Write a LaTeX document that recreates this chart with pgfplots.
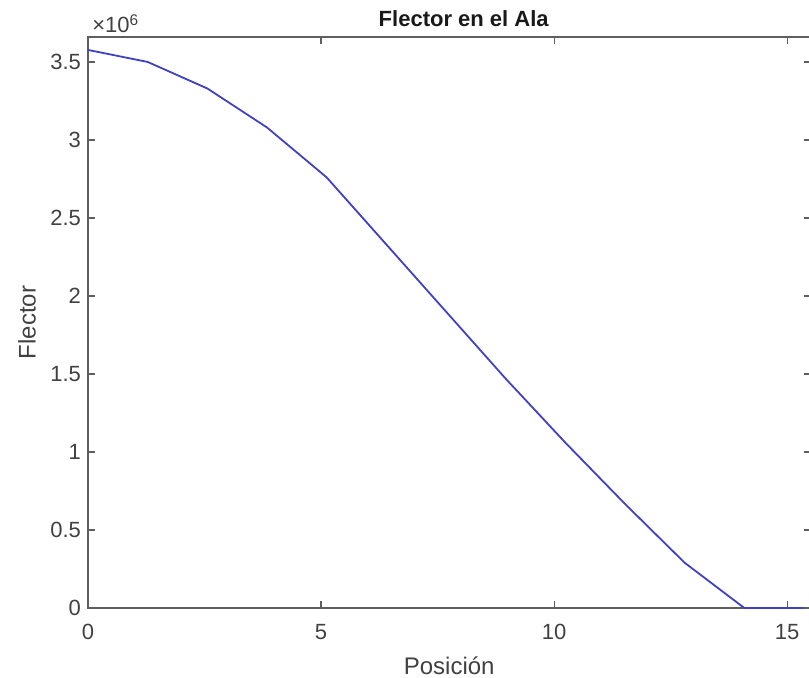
\documentclass[border=0pt]{standalone}
\usepackage{fontspec}
\setmainfont{Liberation Sans}
\usepackage{pgfplots}
\pgfplotsset{compat=1.18}
\definecolor{axgray}{RGB}{95,95,95}
\definecolor{txtgray}{RGB}{65,65,65}
\definecolor{mblue}{RGB}{65,65,195}
\begin{document}
\begin{tikzpicture}
\begin{axis}[
  name=ax,
  scale only axis,
  width=361.25pt, height=285.5pt,
  xmin=0, xmax=15.5, ymin=0, ymax=3.66e6,
  xtick={0,5,10,15},
  ytick={0,500000,1000000,1500000,2000000,2500000,3000000,3500000},
  tick align=inside,
  major tick length=3.5pt,
  axis line style={axgray, line width=0.8pt},
  every tick/.style={axgray, line width=0.6pt},
  tick label style={font=\fontsize{11}{13}\selectfont, text=txtgray},
  /pgf/number format/assume math mode=true,
  scaled y ticks=base 10:-6,
  ytick scale label code/.code={×10\textsuperscript{6}},
  every y tick scale label/.style={at={(rel axis cs:0,1)}, anchor=base west, inner sep=0pt, xshift=2pt, yshift=2pt, font=\fontsize{11}{13}\selectfont, text=txtgray},
  xticklabel style={yshift=-4.5pt},
  xlabel={Posición},
  xlabel style={at={(axis description cs:0.5,0)}, anchor=north, yshift=-24pt, inner sep=0pt, font=\fontsize{12}{14}\selectfont, text=txtgray},
  ylabel={Flector},
  ylabel style={at={(axis description cs:-0.0845,0.5)}, anchor=center, inner sep=0pt, font=\fontsize{12}{14}\selectfont, text=txtgray},
  title={Flector en el Ala},
  every axis title shift=0pt,
  title style={at={(axis description cs:0.52,1)}, anchor=base, yshift=5pt, inner sep=0pt, font=\bfseries\fontsize{11}{13}\selectfont, text=black!90},
  clip=false,
]
\addplot[mblue, line width=0.9pt] table {
x y
0 3577000
1.28 3500000
2.56 3330000
3.84 3080000
5.12 2760000
6.4 2330000
7.68 1900000
8.96 1470000
10.24 1060000
11.52 667000
12.8 290000
14.08 0
15.36 0
};
\end{axis}
\pgfresetboundingbox
\path[use as bounding box] ([xshift=-44pt,yshift=-35pt]ax.south west) rectangle ([xshift=360.5pt,yshift=304pt]ax.south west);
\end{tikzpicture}
\end{document}
